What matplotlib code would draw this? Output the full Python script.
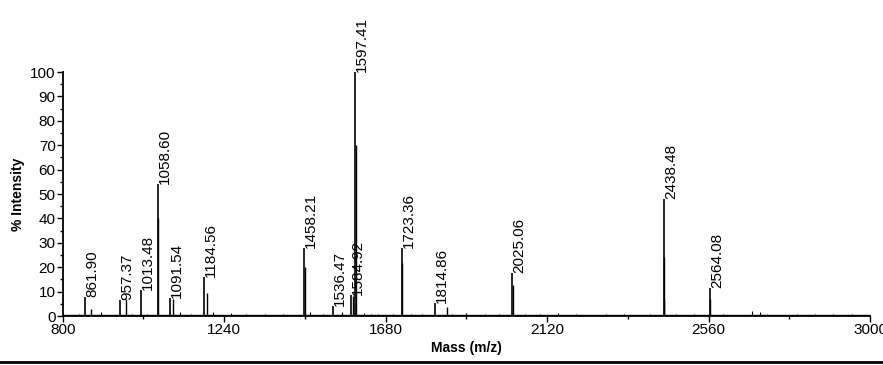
import matplotlib
matplotlib.use("Agg")
import matplotlib.pyplot as plt
from matplotlib.ticker import MultipleLocator, FixedLocator
from matplotlib.lines import Line2D

plt.rcParams['font.family'] = ['Liberation Sans', 'DejaVu Sans']

# labelled peaks (m/z, % intensity)
label_mz = [861.90, 957.37, 1013.48, 1058.60, 1091.54, 1184.56, 1458.21,
            1536.47, 1584.92, 1597.41, 1723.36, 1814.86, 2025.06, 2438.48, 2564.08]
label_int = [7.8, 6.5, 10.7, 54, 7.5, 16, 28, 4, 8.5, 100, 28, 5.3, 17.6, 48, 11.5]

# isotope / neighbouring peaks without labels
side_mz = [877, 972, 1059.6, 1101, 1193, 1459.2, 1590, 1598.4, 1724.4, 1846,
           2026.1, 2437.5, 2439.5, 2565.1]
side_int = [3, 6.8, 40, 7, 9.4, 20, 8, 70, 21.7, 3.8, 12.7, 6.5, 24, 7]

# low baseline bumps
noise_mz = [845, 905, 990, 1030, 1120, 1150, 1210, 1260, 1300, 1350, 1400, 1475,
            1510, 1560, 1620, 1640, 1660, 1700, 1750, 1780, 1860, 1900, 1950, 1990,
            2060, 2100, 2150, 2200, 2280, 2330, 2400, 2470, 2520, 2600, 2679, 2700,
            2720, 2800, 2850, 2900, 2950]
noise_int = [1, 1.5, 1, 1, 1.5, 1, 1.5, 1.2, 1, 1, 1, 1.8, 1, 1.5, 1.2, 1, 1, 1,
             1, 1, 1, 1.2, 1, 1, 1, 1, 1.2, 1, 1, 1, 1, 1, 1, 1, 2.2, 1.5, 1, 1, 1, 1, 1]

x_ticks = [800, 1240, 1680, 2120, 2560, 3000]

fig = plt.figure(figsize=(8.83, 3.65), dpi=100)
ax = fig.add_axes([0.071, 0.1342, 0.9143, 0.6685])

ax.vlines(noise_mz, 0, noise_int, color='black', lw=0.8)
ax.vlines(side_mz, 0, side_int, color='black', lw=1.0)
ax.vlines(label_mz, 0, label_int, color='black', lw=1.2)
ax.axhline(0.6, color='black', lw=1.0)

for m, h in zip(label_mz, label_int):
    ax.annotate(f"{m:.2f}", (m, h), xytext=(5, 0), textcoords='offset points',
                rotation=90, ha='center', va='bottom', fontsize=11)

ax.set_xlim(800, 3000)
ax.set_ylim(0, 100)
ax.xaxis.set_major_locator(FixedLocator(x_ticks))
ax.xaxis.set_minor_locator(FixedLocator([t + 220 for t in x_ticks[:-1]]))
ax.yaxis.set_major_locator(MultipleLocator(10))
ax.yaxis.set_minor_locator(MultipleLocator(5))
ax.tick_params(axis='both', which='major', length=4, width=1, labelsize=11, pad=1)
ax.tick_params(axis='both', which='minor', length=2, width=1)

for s in ['top', 'right']:
    ax.spines[s].set_visible(False)
for s in ['left', 'bottom']:
    ax.spines[s].set_linewidth(1.3)

ax.set_ylabel('% Intensity', fontsize=10, fontweight='bold', labelpad=4)
ax.set_xlabel('Mass (m/z)', fontsize=10, fontweight='bold', labelpad=3)

fig.add_artist(Line2D([0, 1], [0.008, 0.008], transform=fig.transFigure,
                      color='black', lw=2))

fig.savefig('out.png', dpi=100)
